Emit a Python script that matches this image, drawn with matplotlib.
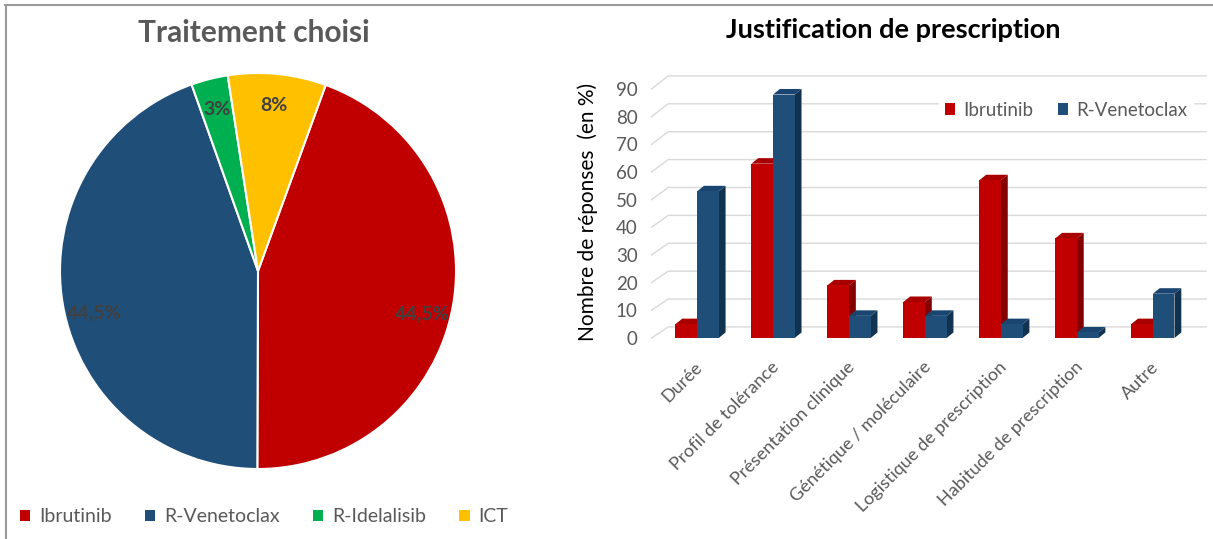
import matplotlib
matplotlib.use("Agg")
import matplotlib.pyplot as plt
from matplotlib.patches import Patch, Polygon
from matplotlib.lines import Line2D

plt.rcParams["font.family"] = ["Lato", "DejaVu Sans"]

# Traitement choisi (pie)
treatments = ["Ibrutinib", "R-Venetoclax", "R-Idelalisib", "ICT"]
treatment_pct = [44.5, 44.5, 3, 8]
treatment_colors = ["#C00000", "#1F4E79", "#00B050", "#FFC000"]

# Justification de prescription (bars, % of answers)
reasons = ["Durée", "Profil de tolérance", "Présentation clinique",
           "Génétique / moléculaire", "Logistique de prescription",
           "Habitude de prescription", "Autre"]
ibrutinib = [5, 63, 19, 13, 57, 36, 5]
venetoclax = [53, 88, 8, 8, 5, 2, 16]
yticks = list(range(0, 100, 10))

W, H = 1213, 539
fig = plt.figure(figsize=(W / 100, H / 100), dpi=100)


def px_axes(x0, y0, x1, y1):
    return fig.add_axes([x0 / W, 1 - y1 / H, (x1 - x0) / W, (y1 - y0) / H])


def fx(x):
    return x / W


def fy(y):
    return 1 - y / H


# outer frame (top and left edges only)
fig.add_artist(Line2D([fx(5), 1], [fy(5), fy(5)], color="#9a9a9a", lw=1.5))
fig.add_artist(Line2D([fx(6), fx(6)], [fy(5), 0], color="#9a9a9a", lw=1.5))

# ---- pie ----
ax1 = px_axes(60, 73, 456, 469)


def pct_label(p):
    return f"{p:.3g}".replace(".", ",") + "%"


wedges, _, autotexts = ax1.pie(
    treatment_pct, colors=treatment_colors, startangle=70, counterclock=False,
    autopct=pct_label, pctdistance=0.84,
    wedgeprops=dict(edgecolor="white", linewidth=1.5),
    textprops=dict(color="#404040", fontsize=14, fontweight="bold"))
# the two large labels sit a little lower than the wedge centre line
for t, p in zip(autotexts, treatment_pct):
    if p > 20:
        x, y = t.get_position()
        t.set_position((x, y - 0.07))
ax1.set_xlim(-1, 1)
ax1.set_ylim(-1, 1)
ax1.set_aspect("equal")

fig.text(fx(254), fy(33), "Traitement choisi", ha="center", va="center",
         fontsize=21.5, fontweight="bold", color="#595959")

pie_handles = [Patch(facecolor=c, edgecolor="none") for c in treatment_colors]
fig.legend(pie_handles, treatments, loc="center", bbox_to_anchor=(fx(264), fy(517)),
           ncol=4, frameon=False, handlelength=0.55, handleheight=0.55,
           handletextpad=0.45, columnspacing=1.7, fontsize=14,
           labelcolor="#595959")

# ---- 3D-look bar chart ----
ax2 = px_axes(650, 69.6, 1206, 346.3)
ax2.set_xlim(-0.62, 6.70)
ax2.set_ylim(-3, 97)
w = 0.285          # bar width
dx, dy = 0.09, 2.0  # bar depth
gdx = 0.24          # floor depth at left edge

x0, x1 = ax2.get_xlim()
for v in yticks:
    back = v * 1.008 + 4.0
    ax2.plot([x0 + 0.02, x0 + gdx, x1], [v, back, back], color="#D9D9D9",
             lw=1, zorder=1, clip_on=False)


def draw_bar(left, value, front, top, side, z):
    ax2.bar(left, value, width=w, align="edge", color=front, zorder=z + 0.2,
            linewidth=0)
    r = left + w
    ax2.add_patch(Polygon([(r, 0), (r + dx, dy), (r + dx, value + dy), (r, value)],
                          closed=True, facecolor=side, edgecolor="none", zorder=z))
    ax2.add_patch(Polygon([(left, value), (r, value), (r + dx, value + dy),
                           (left + dx, value + dy)],
                          closed=True, facecolor=top, edgecolor="none", zorder=z + 0.1))


for i in range(len(reasons)):
    draw_bar(i - w, ibrutinib[i], "#C00000", "#A80000", "#840000", 3 + i)
    draw_bar(i, venetoclax[i], "#1F4E79", "#1A4570", "#12334F", 3.5 + i)

ax2.set_yticks(yticks)
ax2.set_xticks([i + 0.04 for i in range(len(reasons))])
ax2.set_xticklabels(reasons, rotation=45, ha="right", va="center",
                    rotation_mode="anchor")
ax2.tick_params(axis="y", length=0, pad=9, labelsize=13.5, labelcolor="#595959")
ax2.tick_params(axis="x", length=0, pad=13, labelsize=13, labelcolor="#595959")
for s in ax2.spines.values():
    s.set_visible(False)
ax2.set_ylabel("Nombre de réponses  (en %)", fontsize=15, color="black")
ax2.yaxis.set_label_coords(-0.093, 0.485)

fig.text(fx(893), fy(30), "Justification de prescription", ha="center",
         va="center", fontsize=19.5, fontweight="bold", color="black")

bar_handles = [Patch(facecolor="#C00000"), Patch(facecolor="#1F4E79")]
leg = ax2.legend(bar_handles, ["Ibrutinib", "R-Venetoclax"], loc="center",
                 bbox_to_anchor=(fx(1066), fy(110)),
                 bbox_transform=fig.transFigure, ncol=2, frameon=True,
                 fancybox=False, facecolor="white", edgecolor="white",
                 framealpha=1, handlelength=0.55, handleheight=0.55,
                 handletextpad=0.45, columnspacing=1.3, fontsize=13.5,
                 labelcolor="#595959", borderpad=0.3)
leg.set_zorder(20)

fig.savefig("out.png", dpi=100)
